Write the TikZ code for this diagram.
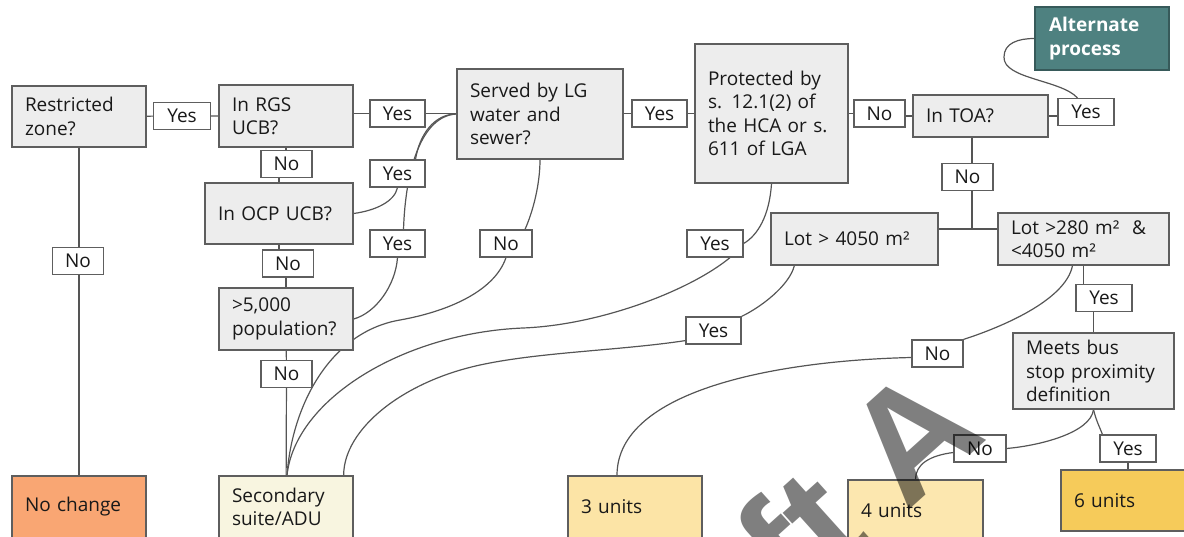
\documentclass[tikz,border=0pt]{standalone}
\usepackage{fontspec}
\setmainfont{Open Sans}
\newfontfamily\wmfont{Liberation Sans}
\usetikzlibrary{calc,backgrounds}
\definecolor{boxg}{HTML}{EDEDED}
\definecolor{bord}{HTML}{5E5E5E}
\definecolor{lnc}{HTML}{555555}
\definecolor{orng}{HTML}{F9A673}
\definecolor{cream}{HTML}{F8F5E0}
\definecolor{ylw}{HTML}{FCE4A6}
\definecolor{gold}{HTML}{F6CB5A}
\definecolor{tealc}{HTML}{4E8180}
\tikzset{
  txt/.style={font=\fontsize{19}{23.3}\selectfont},
  box/.style={txt, draw=bord, fill=boxg, line width=1.3pt, inner xsep=13pt, inner ysep=0pt, align=left, text=black!90},
  lbl/.style={txt, draw=bord, fill=white, line width=1.2pt, minimum height=27pt, inner sep=0pt, text=black!90},
  conn/.style={draw=lnc, line width=1.2pt},
}
\begin{document}
\begin{tikzpicture}[x=1pt, y=-1pt]
\path[use as bounding box] (0,0) rectangle (1184,537);
\clip (0,0) rectangle (1184,537);
% question boxes
\node[box, text width=108pt, minimum height=61pt] (rz) at (79,116.5) {Restricted\\zone?};
\node[box, text width=108pt, minimum height=62pt] (rgs) at (286,116) {In RGS\\UCB?};
\node[box, text width=122pt, minimum height=61pt] (ocp) at (279,213.5) {In OCP UCB?};
\node[box, text width=108pt, minimum height=62pt] (pop) at (286,319) {>5,000\\population?};
\node[box, text width=140pt, minimum height=90pt] (served) at (540,114) {Served by LG\\water and\\sewer?};
\node[box, text width=127pt, minimum height=139pt] (prot) at (771.5,113.5) {Protected by\\s. 12.1(2) of\\the HCA or s.\\611 of LGA};
\node[box, text width=109pt, minimum height=42pt] (toa) at (980.5,116) {In TOA?};
\node[box, fill=tealc, draw=tealc!70!black, text=white, font=\fontsize{19}{23.3}\selectfont\bfseries, text width=106pt, inner xsep=14pt, minimum height=63pt] (alt) at (1102,38.5) {Alternate\\process};
\node[box, text width=141pt, minimum height=52pt] (l4050) at (854.5,239) {Lot > 4050 m²};
\node[box, text width=145pt, minimum height=52pt] (l280) at (1083.5,239) {Lot >280 m²\ \ \&\\<4050 m²};
\node[box, text width=135pt, minimum height=76pt] (meets) at (1093.5,371) {Meets bus\\stop proximity\\definition};
% outcome boxes
\node[box, fill=orng, text width=108pt, minimum height=62pt] (nc) at (79,507) {No change};
\node[box, fill=cream, text width=108pt, minimum height=62pt] (sec) at (286,507) {Secondary\\suite/ADU};
\node[box, fill=ylw, text width=108pt, minimum height=62pt] (u3) at (635,507) {3 units};
\node[box, fill=ylw!90!white, text width=109pt, minimum height=62pt] (u4) at (915.5,511) {4 units};
\node[box, fill=gold, text width=108pt, minimum height=61pt] (u6) at (1128,500.5) {6 units};
% labels
\node[lbl, minimum width=57pt] (y1) at (182,116) {Yes};
\node[lbl, minimum width=51pt] (n1) at (78,261) {No};
\node[lbl, minimum width=51pt] (n2) at (286.5,164) {No};
\node[lbl, minimum width=51pt] (n3) at (288,263.5) {No};
\node[lbl, minimum width=51pt] (n4) at (286.5,374) {No};
\node[lbl, minimum width=55pt] (y2) at (397.5,113.5) {Yes};
\node[lbl, minimum width=55pt] (y3) at (397.5,173.5) {Yes};
\node[lbl, minimum width=55pt] (y4) at (397.5,243.5) {Yes};
\node[lbl, minimum width=52pt] (n5) at (506,243.5) {No};
\node[lbl, minimum width=55pt] (y5) at (659.5,113.5) {Yes};
\node[lbl, minimum width=56pt] (y6) at (715,243.5) {Yes};
\node[lbl, minimum width=55pt] (y7) at (713.5,330.5) {Yes};
\node[lbl, minimum width=51pt] (n13) at (879.5,113.5) {No};
\node[lbl, minimum width=56pt] (y14) at (1086,112) {Yes};
\node[lbl, minimum width=51pt] (n12) at (967.5,177) {No};
\node[lbl, minimum width=56pt] (y9) at (1104,298) {Yes};
\node[lbl, minimum width=51pt] (n8) at (937.5,353.5) {No};
\node[lbl, minimum width=52pt] (n10) at (980,448.5) {No};
\node[lbl, minimum width=56pt] (y11) at (1128,448.5) {Yes};
% way points
\coordinate (jn) at (972,229);
\coordinate (wpA) at (400,320);
\coordinate (wpB) at (523,328);
\coordinate (wpC) at (480,365);
\coordinate (lp) at (1004,57);
\begin{scope}[on background layer]
\path[conn] (rz) -- (rz |- n1.north);
\path[conn] (nc) -- (nc |- n1.south);
\path[conn] (rz) -- (y1) -- (rgs);
\path[conn] (rgs.south) -- (rgs.south |- n2.north);
\path[conn] (ocp.north) -- (ocp.north |- n2.south);
\path[conn] (ocp.south) -- (ocp.south |- n3.north);
\path[conn] (pop.north) -- (pop.north |- n3.south);
\path[conn] (pop) -- (n4) -- (sec);
\path[conn] (rgs.east |- y2) -- (y2) -- (y2 -| served.west);
\path[conn] (served.east |- y5) -- (y5) -- (y5 -| prot.west);
\path[conn] (prot.east |- n13) -- (n13);
\path[conn] (n13.east |- toa.west) -- (toa.west);
\path[conn] (toa.east) -- (toa.east -| y14.west);
\path[conn] ($(y14.north west)+(20,0)$) .. controls +(-16,-18) and +(-1,22) .. (lp) .. controls +(0,-14) and +(-16,0) .. (alt.west);
\path[conn] (ocp.east) .. controls +(22,-3) and +(-3,14) .. (y3.south);
\path[conn] ($(y3.north)+(18,0)$) .. controls +(4,-25) and +(-22,0) .. (served.west);
\path[conn] (pop.east) .. controls +(22,-6) and +(-2,28) .. (y4.south);
\path[conn] ($(y4.north)+(6,0)$) .. controls +(2,-60) and +(-35,2) .. (served.west);
\path[conn] (served.south) .. controls +(0,25) and +(8,-18) .. ($(n5.north)+(19,0)$);
\path[conn] (n5.south) .. controls +(-12,35) and +(45,-8) .. (wpA) .. controls +(-70,12) and +(5,-70) .. ($(sec.north)+(1,0)$);
\path[conn] (prot.south) .. controls +(-2,32) and +(14,-8) .. (y6.east);
\path[conn] ($(y6.south)+(15,0)$) .. controls +(-40,33) and +(77,-3) .. (wpB) .. controls +(-120,5) and +(8,-76) .. ($(sec.north)+(1,0)$);
\path[conn] ($(l4050.south west)+(24,0)$) .. controls +(-5,20) and +(19,-9) .. (y7.north east);
\path[conn] ($(y7.south west)+(0,-4)$) .. controls +(-66,10) and +(60,-13) .. (wpC) .. controls +(-78,17) and +(0,-46) .. ($(sec.north east)+(-10,0)$);
\path[conn] ($(l280.south)+(-11,0)$) .. controls +(-7,35) and +(37,-12) .. (n8.north east);
\path[conn] ($(n8.west)+(0,4)$) .. controls +(-132,3) and +(0,-86) .. ($(u3.north)+(-18,0)$);
\path[conn] (l280.south) -- (l280.south |- y9.north);
\path[conn] (meets.north) -- (meets.north |- y9.south);
\path[conn] (meets.south) .. controls +(-3,23) and +(34,-3) .. (n10.east);
\path[conn] ($(n10.west)+(0,4)$) .. controls +(-24,3) and +(0,-15) .. (u4.north);
\path[conn] (meets.south) .. controls +(3,12) and +(-3,-8) .. ($(y11.north west)+(3,0)$);
\path[conn] (y11) -- (u6);
\path[conn] (jn) -- (jn |- toa.south);
\path[conn] (l4050.east |- jn) -- (l280.west |- jn);
\end{scope}
% watermark
\node[font=\fontsize{155}{155}\selectfont\wmfont\bfseries, text=black, opacity=0.5, rotate=42, anchor=base east, inner sep=0pt] (wm) at (990,437) {Draft A};
\end{tikzpicture}
\end{document}
